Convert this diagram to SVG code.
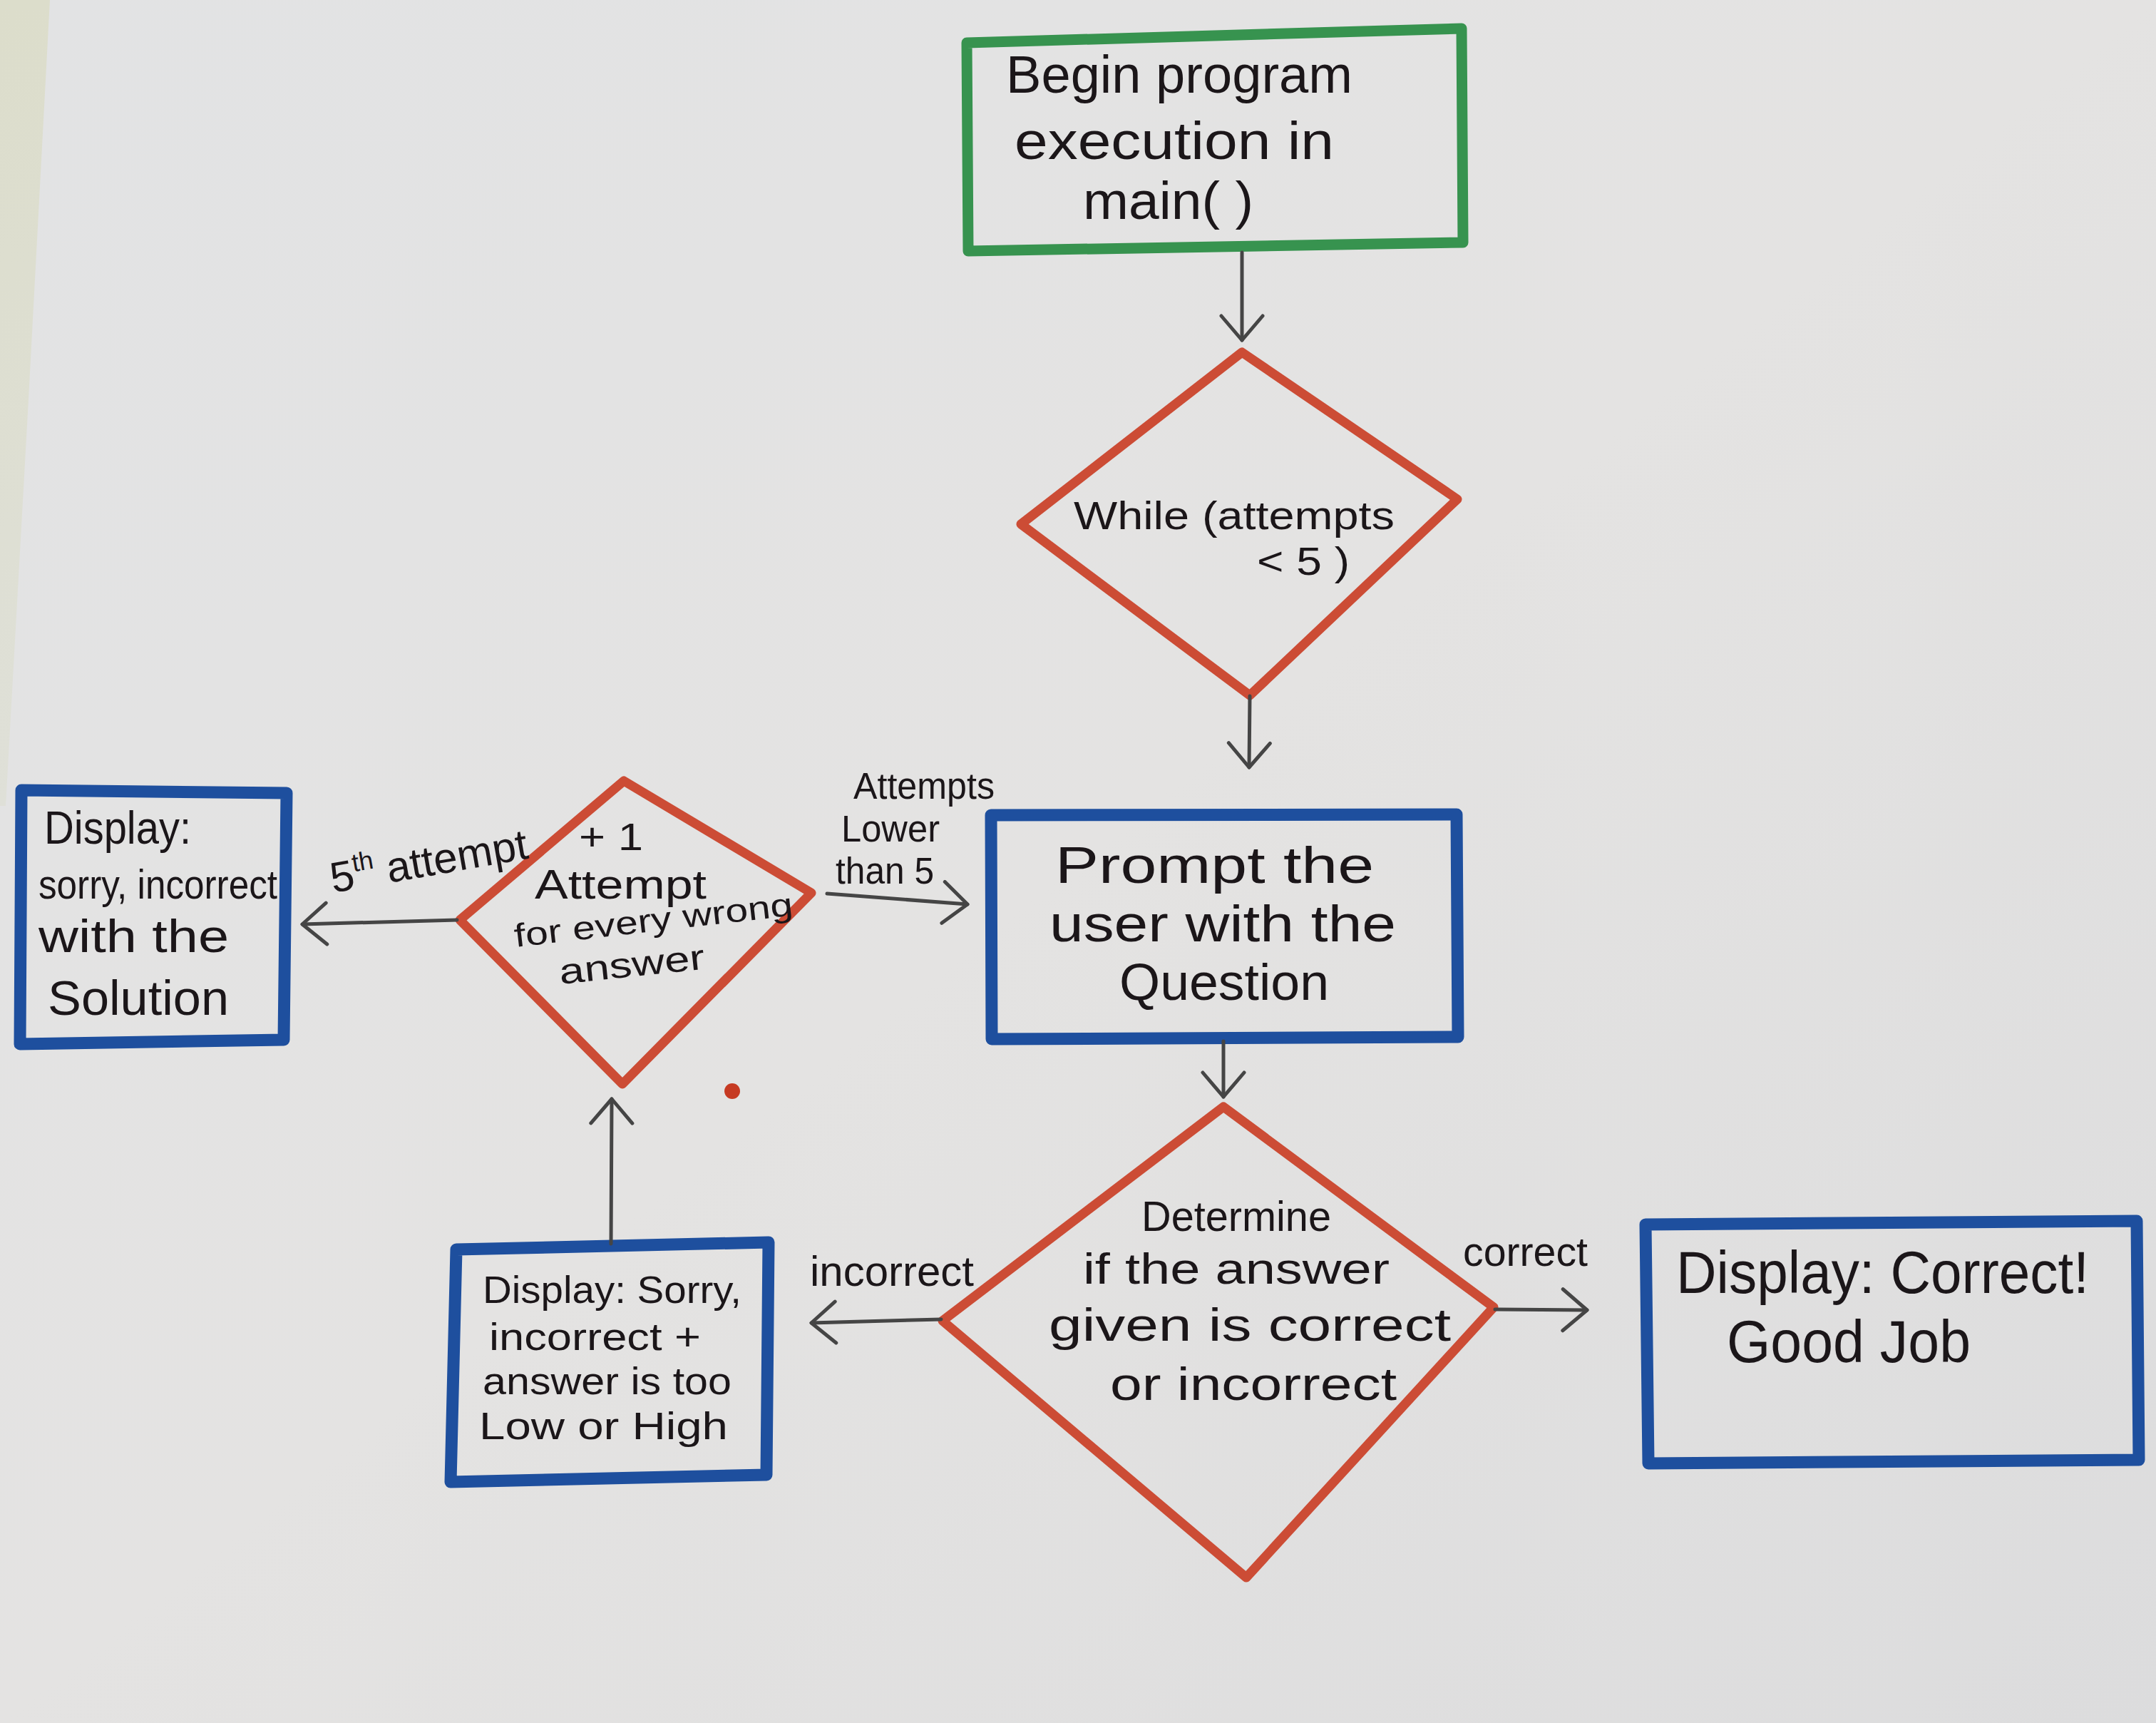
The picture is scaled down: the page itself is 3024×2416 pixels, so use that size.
<svg xmlns="http://www.w3.org/2000/svg" width="3024" height="2416" viewBox="0 0 3024 2416">
  <defs>
    <linearGradient id="paper" x1="0" y1="0" x2="1" y2="1">
      <stop offset="0" stop-color="#e2e3e4"/>
      <stop offset="0.5" stop-color="#e4e3e2"/>
      <stop offset="1" stop-color="#dcdcdd"/>
    </linearGradient>
    <linearGradient id="edge" x1="0" y1="0" x2="0" y2="1">
      <stop offset="0" stop-color="#dcddcb"/>
      <stop offset="1" stop-color="#dfe0d8"/>
    </linearGradient>
    <marker id="arrow" viewBox="0 0 40 64" refX="37" refY="32" markerWidth="40" markerHeight="64" markerUnits="userSpaceOnUse" orient="auto">
      <path d="M3,3 L37,32 L3,61" fill="none" stroke="#454545" stroke-width="5" stroke-linecap="round" stroke-linejoin="round"/>
    </marker>
    <style>
      .hand { font-family: "Liberation Sans", Arial, sans-serif; fill: #1b1619; }
      .green { fill: none; stroke: #37934f; stroke-width: 15; stroke-linejoin: round; }
      .blue { fill: none; stroke: #1e4f9e; stroke-width: 17; stroke-linejoin: round; }
      .red { fill: none; stroke: #cc4c35; stroke-width: 13; stroke-linejoin: round; }
      .conn { fill: none; stroke: #454545; stroke-width: 5; stroke-linecap: round; marker-end: url(#arrow); }
    </style>
  </defs>

  <!-- paper background -->
  <rect x="0" y="0" width="3024" height="2416" fill="url(#paper)"/>
  <polygon points="0,0 70,0 40,560 8,1130 0,1130" fill="url(#edge)"/>

  <!-- nodes -->
  <g id="node-begin">
    <polygon class="green" points="1356,60 2050,40 2052,340 1358,352"/>
    <text class="hand" font-size="74" x="1411" y="130" textLength="486" lengthAdjust="spacingAndGlyphs">Begin program</text>
    <text class="hand" font-size="74" x="1423" y="223" textLength="448" lengthAdjust="spacingAndGlyphs">execution in</text>
    <text class="hand" font-size="74" x="1519" y="307" textLength="239" lengthAdjust="spacingAndGlyphs">main( )</text>
  </g>

  <g id="node-while">
    <polygon class="red" points="1742,494 2044,700 1753,975 1432,735"/>
    <text class="hand" font-size="56" x="1506" y="742" textLength="450" lengthAdjust="spacingAndGlyphs">While (attempts</text>
    <text class="hand" font-size="56" x="1763" y="806" textLength="130" lengthAdjust="spacingAndGlyphs">&lt; 5 )</text>
  </g>

  <g id="node-prompt">
    <polygon class="blue" points="1390,1143 2043,1142 2045,1454 1391,1457"/>
    <text class="hand" font-size="72" x="1480" y="1238" textLength="447" lengthAdjust="spacingAndGlyphs">Prompt the</text>
    <text class="hand" font-size="72" x="1472" y="1320" textLength="486" lengthAdjust="spacingAndGlyphs">user with the</text>
    <text class="hand" font-size="72" x="1570" y="1402" textLength="294" lengthAdjust="spacingAndGlyphs">Question</text>
  </g>

  <g id="node-determine">
    <polygon class="red" points="1716,1552 2095,1833 1748,2212 1322,1852"/>
    <text class="hand" font-size="60" x="1601" y="1726" textLength="266" lengthAdjust="spacingAndGlyphs">Determine</text>
    <text class="hand" font-size="62" x="1519" y="1800" textLength="430" lengthAdjust="spacingAndGlyphs">if the answer</text>
    <text class="hand" font-size="64" x="1471" y="1880" textLength="564" lengthAdjust="spacingAndGlyphs">given is correct</text>
    <text class="hand" font-size="64" x="1557" y="1963" textLength="402" lengthAdjust="spacingAndGlyphs">or incorrect</text>
  </g>

  <g id="node-correct">
    <polygon class="blue" points="2308,1717 2997,1712 3000,2047 2312,2052"/>
    <text class="hand" font-size="84" x="2351" y="1813" textLength="579" lengthAdjust="spacingAndGlyphs">Display: Correct!</text>
    <text class="hand" font-size="84" x="2422" y="1910" textLength="342" lengthAdjust="spacingAndGlyphs">Good Job</text>
  </g>

  <g id="node-too-low-high">
    <polygon class="blue" points="640,1752 1078,1742 1075,2068 632,2078"/>
    <text class="hand" font-size="54" x="677" y="1827" textLength="363" lengthAdjust="spacingAndGlyphs">Display: Sorry,</text>
    <text class="hand" font-size="53" x="686" y="1893" textLength="297" lengthAdjust="spacingAndGlyphs">incorrect +</text>
    <text class="hand" font-size="53" x="677" y="1955" textLength="349" lengthAdjust="spacingAndGlyphs">answer is too</text>
    <text class="hand" font-size="54" x="672" y="2018" textLength="349" lengthAdjust="spacingAndGlyphs">Low or High</text>
  </g>

  <g id="node-attempt">
    <polygon class="red" points="875,1095 1138,1252 873,1520 645,1290"/>
    <text class="hand" font-size="54" x="812" y="1192" textLength="90" lengthAdjust="spacingAndGlyphs">+ 1</text>
    <text class="hand" font-size="58" x="750" y="1260" textLength="241" lengthAdjust="spacingAndGlyphs">Attempt</text>
    <text class="hand" font-size="46" x="723" y="1328" textLength="393" lengthAdjust="spacingAndGlyphs" transform="rotate(-6.5 723 1328)">for every wrong</text>
    <text class="hand" font-size="50" x="786" y="1380" textLength="205" lengthAdjust="spacingAndGlyphs" transform="rotate(-6 786 1380)">answer</text>
  </g>

  <g id="node-solution">
    <polygon class="blue" points="30,1108 402,1112 398,1458 28,1464"/>
    <text class="hand" font-size="64" x="62" y="1183" textLength="206" lengthAdjust="spacingAndGlyphs">Display:</text>
    <text class="hand" font-size="58" x="54" y="1260" textLength="335" lengthAdjust="spacingAndGlyphs">sorry, incorrect</text>
    <text class="hand" font-size="64" x="54" y="1335" textLength="267" lengthAdjust="spacingAndGlyphs">with the</text>
    <text class="hand" font-size="68" x="67" y="1423" textLength="254" lengthAdjust="spacingAndGlyphs">Solution</text>
  </g>

  <!-- connectors -->
  <g id="connectors">
    <path class="conn" d="M1742,354 L1742,477"/>
    <path class="conn" d="M1753,976 L1752,1076"/>
    <path class="conn" d="M1716,1460 L1716,1538"/>
    <path class="conn" d="M1320,1850 L1138,1855"/>
    <path class="conn" d="M2097,1836 L2226,1837"/>
    <path class="conn" d="M857,1744 L858,1541"/>
    <path class="conn" d="M641,1290 L424,1296"/>
    <path class="conn" d="M1160,1253 L1357,1268"/>
  </g>

  <!-- connector labels -->
  <g id="connector-labels">
    <text class="hand" font-size="60" x="1136" y="1803" textLength="230" lengthAdjust="spacingAndGlyphs">incorrect</text>
    <text class="hand" font-size="57" x="2052" y="1775" textLength="175" lengthAdjust="spacingAndGlyphs">correct</text>
    <text class="hand" font-size="51" x="1197" y="1120" textLength="198" lengthAdjust="spacingAndGlyphs">Attempts</text>
    <text class="hand" font-size="51" x="1180" y="1180" textLength="138" lengthAdjust="spacingAndGlyphs">Lower</text>
    <text class="hand" font-size="51" x="1172" y="1239" textLength="138" lengthAdjust="spacingAndGlyphs">than 5</text>
    <text class="hand" font-size="60" x="467" y="1252" transform="rotate(-10 467 1252)">5<tspan font-size="36" dy="-24">th</tspan><tspan dy="24"> attempt</tspan></text>
  </g>

  <!-- stray marker dot -->
  <circle cx="1027" cy="1530" r="11" fill="#c63a22"/>
</svg>
